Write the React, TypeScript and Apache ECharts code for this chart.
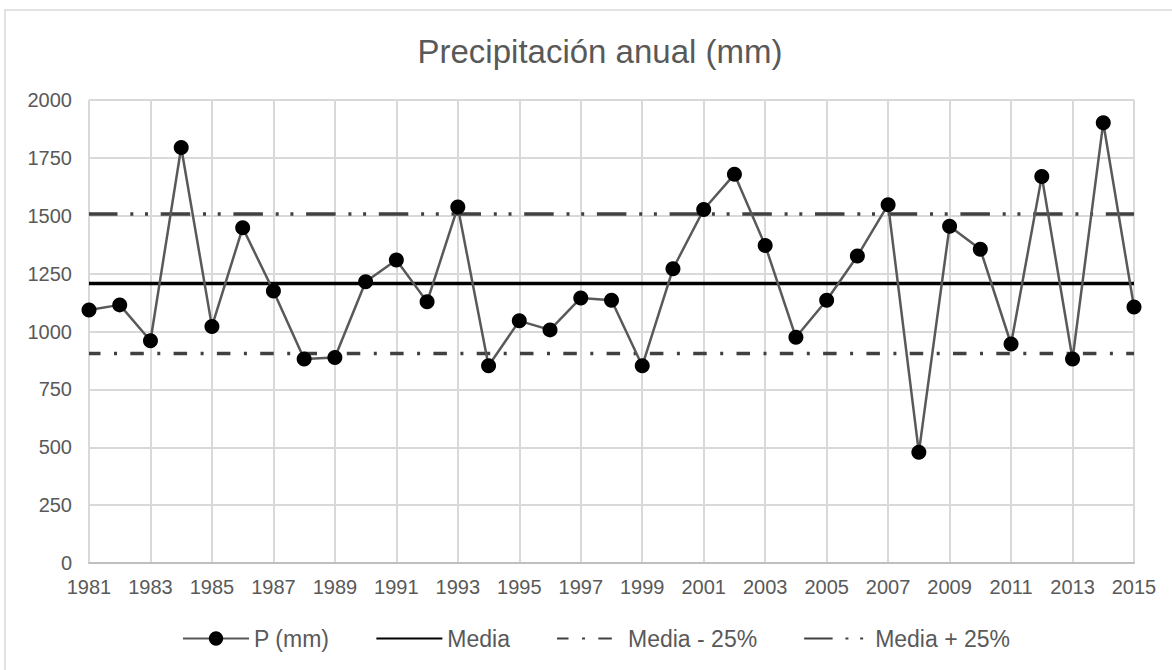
import React, { useEffect, useRef } from "react";
import * as echarts from "echarts";

const YEARS = [
  "1981", "1982", "1983", "1984", "1985", "1986", "1987", "1988", "1989", "1990",
  "1991", "1992", "1993", "1994", "1995", "1996", "1997", "1998", "1999", "2000",
  "2001", "2002", "2003", "2004", "2005", "2006", "2007", "2008", "2009", "2010",
  "2011", "2012", "2013", "2014", "2015",
];

const PRECIP = [
  1093, 1115, 960, 1795, 1022, 1448, 1175, 881, 888, 1215,
  1309, 1128, 1538, 852, 1046, 1007, 1145, 1135, 852, 1271,
  1527, 1679, 1372, 975, 1135, 1326, 1548, 478, 1455, 1355,
  946, 1670, 881, 1902, 1106,
];

const MEDIA = 1207;
const MEDIA_MENOS_25 = 905;
const MEDIA_MAS_25 = 1508;

const Y_MIN = 0;
const Y_MAX = 2000;
const Y_STEP = 250;

const SERIES_NAMES = ["P (mm)", "Media", "Media - 25%", "Media + 25%"];
const TITLE = "Precipitación anual (mm)";

const FONT = "'Liberation Sans', Arial, sans-serif";
const TEXT = "#595959";

export default function App() {
  const ref = useRef<HTMLDivElement>(null);

  useEffect(() => {
    if (!ref.current) return;
    const chart = echarts.init(ref.current, null, { renderer: "svg" });
    chart.setOption({
      animation: false,
      backgroundColor: "#ffffff",
      textStyle: { fontFamily: FONT },
      title: {
        text: TITLE,
        left: 600,
        top: 35,
        textAlign: "center",
        padding: 0,
        textStyle: { fontSize: 33, fontWeight: "normal", color: TEXT, fontFamily: FONT },
      },
      graphic: [
        {
          type: "rect",
          shape: { x: 5, y: 10, width: 1200, height: 700 },
          style: { fill: "none", stroke: "#d9d9d9", lineWidth: 1.5 },
          silent: true,
          z: -10,
        },
      ],
      grid: { left: 89, right: 38, top: 100, bottom: 107 },
      legend: {
        left: 182,
        top: 627,
        padding: 0,
        itemWidth: 66,
        itemHeight: 18,
        itemGap: 46,
        textStyle: { fontSize: 23, color: TEXT, fontFamily: FONT },
        data: [
          { name: SERIES_NAMES[0] },
          { name: SERIES_NAMES[1], itemStyle: { opacity: 0 } },
          { name: SERIES_NAMES[2], itemStyle: { opacity: 0 } },
          { name: SERIES_NAMES[3], itemStyle: { opacity: 0 } },
        ],
      },
      xAxis: {
        type: "category",
        data: YEARS,
        boundaryGap: false,
        axisLine: { show: true, lineStyle: { color: "#bfbfbf", width: 2 } },
        axisTick: { show: false, interval: 1 },
        axisLabel: { interval: 1, color: TEXT, fontSize: 20, margin: 14, fontFamily: FONT },
        splitLine: { show: true, interval: 1, lineStyle: { color: "#d9d9d9", width: 2 } },
      },
      yAxis: {
        type: "value",
        min: Y_MIN,
        max: Y_MAX,
        interval: Y_STEP,
        axisLine: { show: false },
        axisTick: { show: false },
        axisLabel: {
          color: TEXT,
          fontSize: 20,
          margin: 17,
          fontFamily: FONT,
          formatter: (v: number) => String(v),
        },
        splitLine: { show: true, lineStyle: { color: "#d9d9d9", width: 2 } },
      },
      series: [
        {
          name: SERIES_NAMES[1],
          type: "line",
          data: YEARS.map(() => MEDIA),
          symbol: "none",
          lineStyle: { color: "#000000", width: 3.5 },
          itemStyle: { color: "#000000" },
          z: 2,
        },
        {
          name: SERIES_NAMES[2],
          type: "line",
          data: YEARS.map(() => MEDIA_MENOS_25),
          symbol: "none",
          lineStyle: { color: "#404040", width: 3.5, type: [13.5, 13.5, 3, 13.3], dashOffset: 2 },
          itemStyle: { color: "#404040" },
          z: 2,
        },
        {
          name: SERIES_NAMES[3],
          type: "line",
          data: YEARS.map(() => MEDIA_MAS_25),
          symbol: "none",
          lineStyle: { color: "#404040", width: 3.5, type: [29.5, 12.8, 3, 11.7, 3, 12.7], dashOffset: 1 },
          itemStyle: { color: "#404040" },
          z: 2,
        },
        {
          name: SERIES_NAMES[0],
          type: "line",
          data: PRECIP,
          symbol: "circle",
          symbolSize: 15,
          showAllSymbol: true,
          itemStyle: { color: "#000000" },
          lineStyle: { color: "#595959", width: 2.5 },
          z: 5,
        },
      ],
    });
    return () => chart.dispose();
  }, []);

  return (
    <div
      ref={ref}
      style={{ position: "absolute", left: 0, top: 0, width: 1172, height: 670, background: "#fff" }}
    />
  );
}
